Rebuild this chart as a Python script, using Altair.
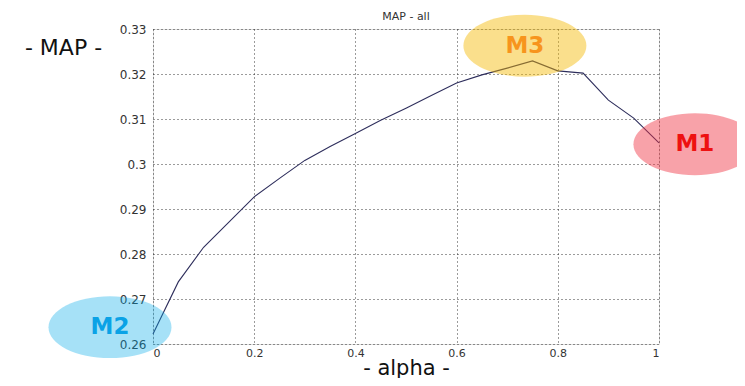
import altair as alt
import pandas as pd

# --- data ---
alpha = [0.00, 0.05, 0.10, 0.15, 0.20, 0.25, 0.30, 0.35, 0.40, 0.45, 0.50,
         0.55, 0.60, 0.65, 0.70, 0.75, 0.80, 0.85, 0.90, 0.95, 1.00]
map_all = [0.2622, 0.2738, 0.2815, 0.2871, 0.2927, 0.2968, 0.3008, 0.3039,
           0.3068, 0.3097, 0.3124, 0.3152, 0.3180, 0.3198, 0.3213, 0.3229,
           0.3207, 0.3202, 0.3142, 0.3102, 0.3047]

# annotation bubbles (centre in data units)
ann_label = ["M3", "M1", "M2"]
ann_x = [0.735, 1.071, -0.085]
ann_y = [0.3263, 0.3044, 0.26375]
ann_fill = ["#f5b700", "#f03040", "#00a8e8"]
ann_opacity = [0.45, 0.45, 0.35]
ann_text_color = ["#f7941d", "#ee1111", "#0aa2e6"]

x_ticks = [0, 0.2, 0.4, 0.6, 0.8, 1]
y_ticks = [0.26, 0.27, 0.28, 0.29, 0.30, 0.31, 0.32, 0.33]
chart_title = "MAP - all"

df = pd.DataFrame({"alpha": alpha, "MAP": map_all})
ann = pd.DataFrame({"label": ann_label, "x": ann_x, "y": ann_y,
                    "fill": ann_fill, "op": ann_opacity, "tc": ann_text_color})
ttl = pd.DataFrame({"t": [chart_title]})

xscale = alt.Scale(domain=[0, 1], nice=False, zero=False)
yscale = alt.Scale(domain=[0.26, 0.33], nice=False, zero=False)

lab_font = "DejaVu Sans"

xaxis = alt.Axis(values=x_ticks, format="~g", title="- alpha -",
                 grid=True, gridDash=[1, 3], gridColor="#222", gridOpacity=0.9,
                 ticks=False, domain=False, labelPadding=3,
                 labelFont=lab_font, labelFontSize=11, labelColor="#333",
                 titleFont=lab_font, titleFontSize=21, titleFontWeight="normal",
                 titleColor="#111", titleY=30, titleBaseline="alphabetic")
yaxis = alt.Axis(values=y_ticks, format=".2~f", title="- MAP -",
                 grid=True, gridDash=[1, 3], gridColor="#222", gridOpacity=0.9,
                 ticks=False, domain=False, labelPadding=7,
                 labelFont=lab_font, labelFontSize=12, labelColor="#333",
                 titleFont=lab_font, titleFontSize=22, titleFontWeight="normal",
                 titleColor="#111", titleAngle=0, titleX=-90, titleY=25,
                 titleAlign="center", titleBaseline="alphabetic")

line = alt.Chart(df).mark_line(color="#2e2e5c", strokeWidth=1.1).encode(
    x=alt.X("alpha:Q", scale=xscale, axis=xaxis),
    y=alt.Y("MAP:Q", scale=yscale, axis=yaxis),
)

ellipse_path = "M-1,0A1,0.504,0,1,0,1,0A1,0.504,0,1,0,-1,0Z"
bubbles = alt.Chart(ann).mark_point(
    shape=ellipse_path, filled=True, size=15129, strokeWidth=0, clip=False
).encode(
    x=alt.X("x:Q", scale=xscale),
    y=alt.Y("y:Q", scale=yscale),
    color=alt.Color("fill:N", scale=None),
    opacity=alt.Opacity("op:Q", scale=None),
)

texts = alt.Chart(ann).mark_text(
    font=lab_font, fontSize=23, fontWeight="bold", baseline="middle",
    align="center", clip=False
).encode(
    x=alt.X("x:Q", scale=xscale),
    y=alt.Y("y:Q", scale=yscale),
    text="label:N",
    color=alt.Color("tc:N", scale=None),
)

title_text = alt.Chart(ttl).mark_text(
    font=lab_font, fontSize=11, color="#333", align="center",
    baseline="alphabetic", clip=False
).encode(
    x=alt.value(253), y=alt.value(-9), text="t:N"
)

chart = alt.layer(line, bubbles, texts, title_text).properties(
    width=506, height=315,
    autosize=alt.AutoSizeParams(type="none"),
    padding={"left": 145, "top": 21, "right": 78, "bottom": 34},
).configure_view(stroke="#222", strokeWidth=1).configure(background="white")

chart.save("out.html", embed_options={"renderer": "svg", "actions": False})
